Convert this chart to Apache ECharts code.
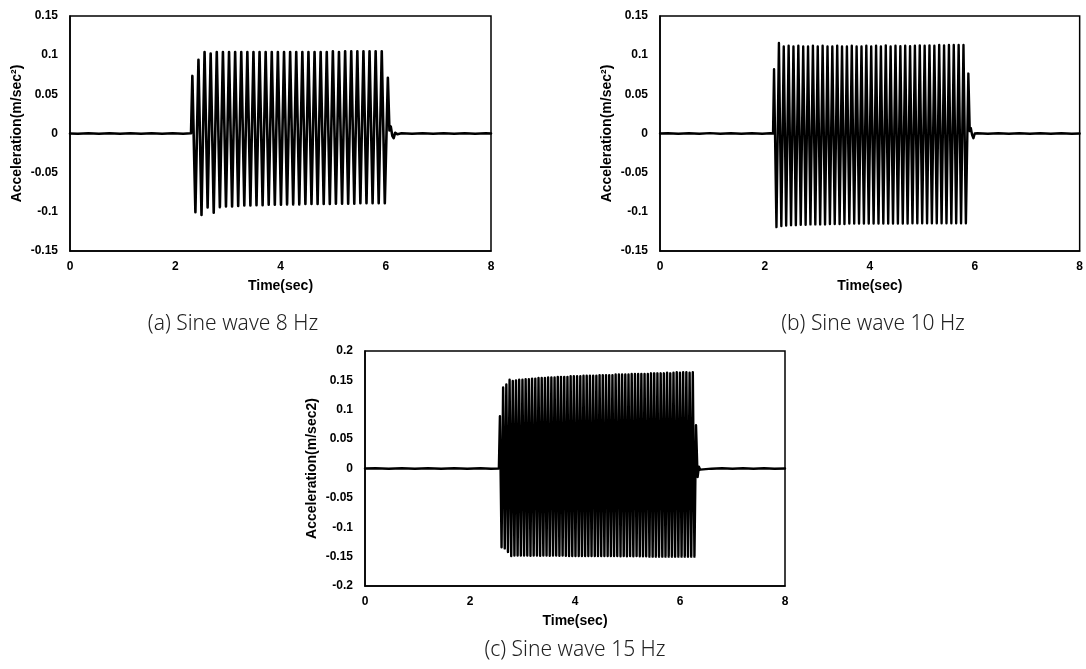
<!DOCTYPE html>
<html>
<head>
<meta charset="utf-8">
<script src="https://cdn.jsdelivr.net/npm/echarts@6/dist/echarts.min.js"></script>
<style>
html,body{margin:0;padding:0;background:#fff;}
#chart{width:1086px;height:669px;}
</style>
</head>
<body>
<div id="chart"></div>
<script>
// ---- Data: [time (s), acceleration] ----
const captions = ['(a) Sine wave 8 Hz', '(b) Sine wave 10 Hz', '(c) Sine wave 15 Hz'];
const yNames = ['Acceleration(m/sec\u00B2)', 'Acceleration(m/sec\u00B2)', 'Acceleration(m/sec2)'];
const xName = 'Time(sec)';
const yRanges = [[-0.15, 0.15], [-0.15, 0.15], [-0.2, 0.2]];

const waveA = [
[0,0],[0.15,-0.0004],[0.35,0.0003],[0.55,-0.0003],[0.75,0.0004],[0.95,-0.0003],[1.15,0.0003],[1.35,-0.0004],[1.55,0.0003],[1.75,-0.0003],[1.95,0.0004],[2.15,-0.0003],[2.30,0.0003],
[2.325,0.0735],[2.383,-0.1005],
[2.441,0.094],[2.499,-0.1040],
[2.557,0.104],[2.615,-0.0945],
[2.673,0.102],[2.731,-0.1010],
[2.789,0.104],[2.848,-0.0940],
[2.906,0.104],[2.964,-0.0930],
[3.022,0.104],[3.080,-0.0930],
[3.138,0.104],[3.196,-0.0925],
[3.254,0.104],[3.312,-0.0920],
[3.370,0.104],[3.428,-0.0920],
[3.486,0.104],[3.544,-0.0915],
[3.602,0.104],[3.660,-0.0915],
[3.718,0.104],[3.776,-0.0910],
[3.834,0.104],[3.892,-0.0910],
[3.950,0.104],[4.009,-0.0910],
[4.067,0.104],[4.125,-0.0905],
[4.183,0.104],[4.241,-0.0905],
[4.299,0.104],[4.357,-0.0905],
[4.415,0.104],[4.473,-0.0900],
[4.531,0.104],[4.589,-0.0900],
[4.647,0.104],[4.705,-0.0900],
[4.763,0.104],[4.821,-0.0900],
[4.879,0.104],[4.937,-0.0900],
[4.995,0.105],[5.053,-0.0895],
[5.111,0.104],[5.170,-0.0895],
[5.228,0.105],[5.286,-0.0895],
[5.344,0.105],[5.402,-0.0895],
[5.460,0.105],[5.518,-0.0890],
[5.576,0.105],[5.634,-0.0890],
[5.692,0.105],[5.750,-0.0890],
[5.808,0.105],[5.866,-0.0890],
[5.924,0.105],[5.982,-0.0890],
[6.040,0.071],
[6.070,0.004],[6.095,0.009],[6.125,-0.003],[6.150,-0.006],[6.180,0.001],[6.220,-0.001],[6.30,0.0004],[6.50,-0.0003],[6.70,0.0003],[6.90,-0.0004],[7.10,0.0003],[7.30,-0.0003],[7.50,0.0004],[7.70,-0.0003],[7.90,0.0003],[8.0,0]
];

const waveB = [
[0,0],[0.15,0.0004],[0.35,-0.0004],[0.55,0.0003],[0.75,-0.0003],[0.95,0.0005],[1.15,-0.0004],[1.35,0.0003],[1.55,-0.0004],[1.75,0.0003],[1.95,-0.0003],[2.10,0.0004],[2.155,0],
[2.174,0.082],[2.220,-0.1195],
[2.267,0.1155],[2.313,-0.118],
[2.359,0.111],[2.405,-0.1175],
[2.452,0.112],[2.498,-0.117],
[2.544,0.111],[2.590,-0.117],
[2.637,0.112],[2.683,-0.1165],
[2.730,0.111],[2.776,-0.1165],
[2.822,0.111],[2.868,-0.116],
[2.915,0.112],[2.961,-0.116],
[3.007,0.111],[3.053,-0.116],
[3.100,0.112],[3.146,-0.116],
[3.193,0.111],[3.239,-0.1155],
[3.285,0.111],[3.331,-0.1155],
[3.378,0.112],[3.424,-0.1155],
[3.470,0.111],[3.516,-0.1155],
[3.563,0.111],[3.609,-0.115],
[3.656,0.112],[3.702,-0.115],
[3.748,0.111],[3.794,-0.115],
[3.841,0.111],[3.887,-0.115],
[3.933,0.112],[3.979,-0.115],
[4.026,0.111],[4.072,-0.115],
[4.119,0.112],[4.165,-0.115],
[4.211,0.111],[4.257,-0.115],
[4.304,0.1125],[4.350,-0.115],
[4.396,0.111],[4.442,-0.115],
[4.489,0.112],[4.535,-0.115],
[4.582,0.1115],[4.628,-0.115],
[4.674,0.112],[4.720,-0.115],
[4.767,0.1115],[4.813,-0.1145],
[4.859,0.112],[4.905,-0.1145],
[4.952,0.1125],[4.998,-0.1145],
[5.045,0.112],[5.091,-0.1145],
[5.137,0.1125],[5.183,-0.1145],
[5.230,0.112],[5.276,-0.1145],
[5.322,0.113],[5.368,-0.1145],
[5.415,0.1125],[5.461,-0.1145],
[5.508,0.113],[5.554,-0.1145],
[5.600,0.113],[5.646,-0.1145],
[5.693,0.113],[5.739,-0.1145],
[5.785,0.113],[5.831,-0.1145],
[5.878,0.0765],
[5.905,0.003],[5.925,0.007],[5.950,-0.002],[5.975,-0.006],[6.000,0.000],[6.05,0.0004],[6.25,-0.0004],[6.45,0.0003],[6.65,-0.0004],[6.85,0.0003],[7.05,-0.0004],[7.25,0.0004],[7.45,-0.0003],[7.65,0.0003],[7.85,-0.0004],[8.0,0]
];

const waveC = [
[0,0],[0.2,0.0004],[0.45,-0.0004],[0.7,0.0003],[0.95,-0.0005],[1.2,0.0004],[1.45,-0.0003],[1.7,0.0004],[1.95,-0.0004],[2.2,0.0003],[2.4,-0.0004],[2.55,0],
[2.570,0.089],[2.601,-0.134],
[2.631,0.138],[2.662,-0.136],
[2.692,0.143],[2.723,-0.142],
[2.754,0.151],[2.785,-0.149],
[2.815,0.149],[2.846,-0.148],
[2.876,0.150],[2.907,-0.148],
[2.937,0.151],[2.968,-0.148],
[2.999,0.151],[3.030,-0.148],
[3.060,0.152],[3.091,-0.148],
[3.121,0.152],[3.152,-0.1485],
[3.182,0.153],[3.213,-0.148],
[3.244,0.153],[3.275,-0.148],
[3.305,0.154],[3.336,-0.1485],
[3.366,0.154],[3.397,-0.148],
[3.427,0.154],[3.458,-0.148],
[3.488,0.155],[3.519,-0.1485],
[3.550,0.155],[3.581,-0.148],
[3.611,0.155],[3.642,-0.148],
[3.672,0.156],[3.703,-0.1485],
[3.733,0.156],[3.764,-0.148],
[3.795,0.156],[3.826,-0.1485],
[3.856,0.156],[3.887,-0.149],
[3.917,0.157],[3.948,-0.149],
[3.978,0.157],[4.009,-0.149],
[4.040,0.157],[4.071,-0.149],
[4.101,0.157],[4.132,-0.149],
[4.162,0.158],[4.193,-0.149],
[4.223,0.158],[4.254,-0.149],
[4.284,0.158],[4.315,-0.149],
[4.346,0.158],[4.377,-0.149],
[4.407,0.158],[4.438,-0.149],
[4.468,0.159],[4.499,-0.149],
[4.529,0.159],[4.560,-0.149],
[4.591,0.159],[4.622,-0.149],
[4.652,0.159],[4.683,-0.149],
[4.713,0.159],[4.744,-0.149],
[4.774,0.160],[4.805,-0.149],
[4.836,0.160],[4.867,-0.1495],
[4.897,0.160],[4.928,-0.149],
[4.958,0.160],[4.989,-0.1495],
[5.019,0.160],[5.050,-0.149],
[5.080,0.161],[5.111,-0.1495],
[5.142,0.161],[5.173,-0.149],
[5.203,0.161],[5.234,-0.1495],
[5.264,0.161],[5.295,-0.1495],
[5.325,0.161],[5.356,-0.1495],
[5.387,0.161],[5.418,-0.150],
[5.448,0.162],[5.479,-0.150],
[5.509,0.162],[5.540,-0.150],
[5.570,0.162],[5.601,-0.150],
[5.632,0.162],[5.663,-0.150],
[5.693,0.162],[5.724,-0.150],
[5.754,0.163],[5.785,-0.150],
[5.815,0.162],[5.846,-0.150],
[5.876,0.163],[5.907,-0.150],
[5.938,0.164],[5.969,-0.150],
[5.999,0.163],[6.030,-0.150],
[6.060,0.164],[6.091,-0.150],
[6.121,0.164],[6.152,-0.150],
[6.183,0.163],[6.214,-0.150],
[6.244,0.164],[6.275,-0.150],
[6.305,0.0735],[6.335,-0.0145],
[6.360,0.003],[6.385,-0.002],[6.42,0.0004],[6.60,-0.0003],[6.80,0.0003],[7.00,-0.0004],[7.20,0.0003],[7.40,-0.0003],[7.60,0.0004],[7.80,-0.0003],[8.0,0]
];

const waves = [waveA, waveB, waveC];

// ---- Layout ----
const grids = [
  {left: 70, top: 16, width: 421, height: 235},
  {left: 660, top: 16, width: 421, height: 235},
  {left: 365, top: 351, width: 420, height: 235}
];
const captionPos = [[233, 324], [873, 324], [575, 650]];
const lineWidths = [2.6, 2.4, 2.4];

const tickFont = {color: '#000', fontWeight: 'bold', fontSize: 12, fontFamily: 'Liberation Sans, Arial, sans-serif'};
const nameFont = {color: '#000', fontWeight: 'bold', fontSize: 14, fontFamily: 'Liberation Sans, Arial, sans-serif'};

const chart = echarts.init(document.getElementById('chart'), null, {renderer: 'canvas'});
const option = {
  animation: false,
  backgroundColor: '#fff',
  grid: grids.map(g => Object.assign({show: true, borderColor: '#000', borderWidth: 1.5, backgroundColor: 'transparent', containLabel: false}, g)),
  xAxis: grids.map((g, i) => ({
    gridIndex: i, type: 'value', min: 0, max: 8, interval: 2,
    name: xName, nameLocation: 'middle', nameGap: 28, nameTextStyle: nameFont,
    axisLine: {show: true, onZero: false, lineStyle: {color: '#000', width: 1.5}},
    axisTick: {show: false}, splitLine: {show: false},
    axisLabel: Object.assign({margin: 10}, tickFont)
  })),
  yAxis: grids.map((g, i) => ({
    gridIndex: i, type: 'value', min: yRanges[i][0], max: yRanges[i][1], interval: 0.05,
    name: yNames[i], nameLocation: 'middle', nameGap: 46, nameRotate: 90, nameTextStyle: nameFont,
    axisLine: {show: true, onZero: false, lineStyle: {color: '#000', width: 1.5}},
    axisTick: {show: false}, splitLine: {show: false},
    axisLabel: Object.assign({margin: 12}, tickFont)
  })),
  series: waves.map((w, i) => ({
    type: 'line', xAxisIndex: i, yAxisIndex: i, data: w,
    showSymbol: false, symbol: 'none', smooth: false,
    lineStyle: {color: '#000', width: lineWidths[i], join: 'round', cap: 'round'},
    itemStyle: {color: '#000'}
  })),
  graphic: captions.map((c, i) => ({
    type: 'text', x: captionPos[i][0], y: captionPos[i][1],
    style: {text: c, align: 'center', verticalAlign: 'middle', textAlign: 'center', textVerticalAlign: 'middle',
      fontSize: 21, fontFamily: 'Noto Sans, sans-serif', fontWeight: 300, fill: '#222'}
  }))
};
chart.setOption(option);
</script>
</body>
</html>
